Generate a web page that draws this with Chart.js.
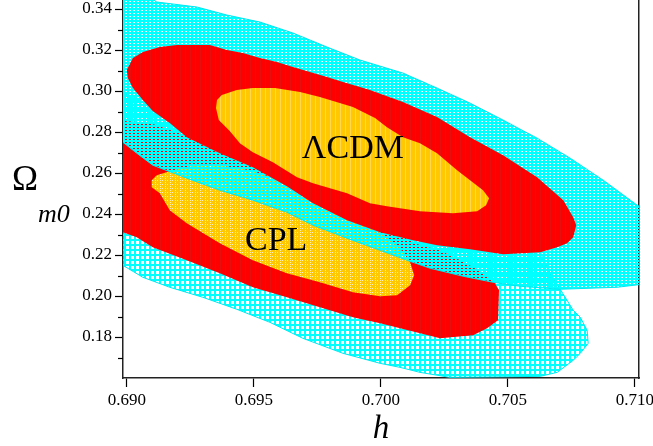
<!DOCTYPE html>
<html>
<head>
<meta charset="utf-8">
<script src="https://cdn.jsdelivr.net/npm/chart.js@4.4.1/dist/chart.umd.min.js"></script>
<style>
  html, body { margin: 0; padding: 0; background: #fff; }
  #chart { display: block; }
</style>
</head>
<body>
<canvas id="chart" width="653" height="446"></canvas>
<script>
// axis ticks
const hTicks = [0.690, 0.695, 0.700, 0.705, 0.710];
const omegaTicks = [0.18, 0.20, 0.22, 0.24, 0.26, 0.28, 0.30, 0.32, 0.34];
const omegaMinorTicks = [0.17, 0.19, 0.21, 0.23, 0.25, 0.27, 0.29, 0.31, 0.33];

// contour outlines, [h, Omega_m0]
const lcdmOuter = [
  [0.68894, 0.35416], [0.69051, 0.34928], [0.69118, 0.34342], [0.69276, 0.34098],
  [0.69394, 0.33707], [0.69524, 0.33365], [0.69654, 0.32828], [0.69788, 0.32145],
  [0.69918, 0.31510], [0.70087, 0.30875], [0.70221, 0.30143], [0.70351, 0.29410],
  [0.70481, 0.28580], [0.70615, 0.27701], [0.70745, 0.26725], [0.70875, 0.25651],
  [0.71009, 0.24430], [0.71060, 0.24089], [0.71060, 0.20621], [0.70930, 0.20426],
  [0.70706, 0.20328], [0.70548, 0.20475], [0.70442, 0.20670], [0.70324, 0.20963],
  [0.70194, 0.21353], [0.70103, 0.21744], [0.69997, 0.22232], [0.69867, 0.22818],
  [0.69733, 0.23454], [0.69630, 0.24089], [0.69496, 0.24675], [0.69366, 0.25163],
  [0.69236, 0.25749], [0.69102, 0.26383], [0.69039, 0.26969], [0.68984, 0.27506],
  [0.68894, 0.28090]
];
const lcdmMid = [
  [0.69000, 0.31021], [0.69024, 0.31607], [0.69063, 0.31900], [0.69130, 0.32145],
  [0.69197, 0.32242], [0.69327, 0.32242], [0.69394, 0.31998], [0.69457, 0.31852],
  [0.69524, 0.31607], [0.69591, 0.31412], [0.69654, 0.31168], [0.69721, 0.30924],
  [0.69788, 0.30680], [0.69851, 0.30436], [0.69918, 0.30191], [0.69957, 0.30045],
  [0.70087, 0.29459], [0.70221, 0.28727], [0.70351, 0.27750], [0.70481, 0.26871],
  [0.70615, 0.25798], [0.70718, 0.24675], [0.70757, 0.23845], [0.70769, 0.23454],
  [0.70757, 0.22867], [0.70733, 0.22574], [0.70694, 0.22379], [0.70627, 0.22135],
  [0.70481, 0.22037], [0.70351, 0.22281], [0.70221, 0.22477], [0.70127, 0.22721],
  [0.69997, 0.23111], [0.69867, 0.23698], [0.69733, 0.24528], [0.69630, 0.25358],
  [0.69496, 0.26286], [0.69366, 0.26969], [0.69236, 0.27750], [0.69169, 0.28434],
  [0.69102, 0.29020], [0.69063, 0.29557], [0.69024, 0.30143], [0.69004, 0.30631]
];
const lcdmInner = [
  [0.69351, 0.29166], [0.69355, 0.29557], [0.69374, 0.29801], [0.69433, 0.30045],
  [0.69496, 0.30143], [0.69583, 0.30143], [0.69682, 0.29947], [0.69760, 0.29703],
  [0.69890, 0.29215], [0.69977, 0.28678], [0.70024, 0.28238], [0.70087, 0.27750],
  [0.70154, 0.27457], [0.70221, 0.26969], [0.70300, 0.26139], [0.70351, 0.25651],
  [0.70402, 0.25163], [0.70426, 0.24772], [0.70414, 0.24430], [0.70379, 0.24138],
  [0.70284, 0.24040], [0.70154, 0.24138], [0.70024, 0.24382], [0.69957, 0.24528],
  [0.69867, 0.25017], [0.69733, 0.25505], [0.69670, 0.25798], [0.69575, 0.26530],
  [0.69496, 0.27018], [0.69445, 0.27457], [0.69406, 0.28043], [0.69362, 0.28580]
];
const cplOuter = [
  [0.68894, 0.30289], [0.68984, 0.29947], [0.69091, 0.29313], [0.69288, 0.28189],
  [0.69682, 0.26139], [0.70075, 0.24186], [0.70391, 0.22818], [0.70548, 0.22477],
  [0.70627, 0.22135], [0.70660, 0.21256], [0.70706, 0.20328], [0.70757, 0.19303],
  [0.70785, 0.18961], [0.70812, 0.18326], [0.70816, 0.17692], [0.70785, 0.17203],
  [0.70757, 0.16861], [0.70694, 0.16275], [0.70627, 0.16080], [0.70272, 0.16031],
  [0.70154, 0.16275], [0.70075, 0.16520], [0.69997, 0.16715], [0.69851, 0.17203],
  [0.69693, 0.17936], [0.69563, 0.18717], [0.69433, 0.19352], [0.69299, 0.19938],
  [0.69169, 0.20426], [0.69063, 0.20914], [0.68984, 0.21500], [0.68894, 0.21842]
];
const cplMid = [
  [0.68894, 0.28678], [0.69000, 0.28531], [0.69091, 0.28434], [0.69288, 0.27604],
  [0.69682, 0.25407], [0.69997, 0.23454], [0.70154, 0.22477], [0.70233, 0.22232],
  [0.70312, 0.21744], [0.70363, 0.21404], [0.70410, 0.21012], [0.70449, 0.20621],
  [0.70465, 0.20279], [0.70461, 0.18815], [0.70418, 0.18424], [0.70363, 0.18082],
  [0.70233, 0.17936], [0.69997, 0.18668], [0.69890, 0.18961], [0.69760, 0.19450],
  [0.69630, 0.19938], [0.69496, 0.20426], [0.69366, 0.21109], [0.69236, 0.21744],
  [0.69102, 0.22379], [0.69039, 0.22867], [0.68984, 0.23111], [0.68894, 0.23307]
];
const cplInner = [
  [0.69098, 0.25651], [0.69118, 0.25895], [0.69169, 0.26090], [0.69248, 0.26335],
  [0.69366, 0.26383], [0.69485, 0.26139], [0.69603, 0.25651], [0.69721, 0.25017],
  [0.69878, 0.24040], [0.69997, 0.23063], [0.70075, 0.22330], [0.70115, 0.21646],
  [0.70131, 0.21012], [0.70115, 0.20523], [0.70064, 0.20035], [0.69997, 0.19986],
  [0.69890, 0.20182], [0.69760, 0.20670], [0.69630, 0.21109], [0.69496, 0.21744],
  [0.69366, 0.22574], [0.69236, 0.23552], [0.69169, 0.24186], [0.69130, 0.25017],
  [0.69098, 0.25309]
];

const regionNames = ['\u039BCDM', 'CPL'];
const regionNameAt = [[0.69689, 0.2673], [0.69465, 0.2223]];

const canvas = document.getElementById('chart');
const ctx = canvas.getContext('2d');

function makePattern(w, h, paint) {
  const c = document.createElement('canvas');
  c.width = w;
  c.height = h;
  paint(c.getContext('2d'));
  return ctx.createPattern(c, 'repeat');
}

// grid-cell look of the original plot
const cyanFine = makePattern(4, 3, g => {
  g.fillStyle = '#00ffff';
  g.fillRect(0, 0, 4, 3);
  g.clearRect(1, 1, 2, 1);
});
const cyanCoarse = makePattern(5, 5, g => {
  g.fillStyle = '#00ffff';
  g.fillRect(0, 0, 5, 5);
  g.clearRect(1, 1, 3, 3);
});
const redFill = makePattern(5, 1, g => {
  g.fillStyle = '#ff0000';
  g.fillRect(0, 0, 5, 1);
  g.fillStyle = '#e41010';
  g.fillRect(0, 0, 1, 1);
});
const yellowLcdm = makePattern(5, 1, g => {
  g.fillStyle = '#ffc800';
  g.fillRect(0, 0, 5, 1);
  g.fillStyle = '#ffd850';
  g.fillRect(0, 0, 1, 1);
});
const yellowCpl = makePattern(5, 4, g => {
  g.fillStyle = '#ffc800';
  g.fillRect(0, 0, 5, 4);
  g.fillStyle = '#fff0b8';
  g.fillRect(0, 0, 1, 1);
  g.fillRect(0, 2, 1, 1);
  g.fillRect(2, 0, 1, 1);
});

function region(label, pts, fill, border, order) {
  const data = pts.map(p => ({ x: p[0], y: p[1] }));
  data.push({ x: pts[0][0], y: pts[0][1] });
  return {
    label,
    data,
    fill: 'shape',
    backgroundColor: fill,
    borderColor: border || 'rgba(0,0,0,0)',
    borderWidth: border ? 1 : 0,
    pointRadius: 0,
    tension: 0,
    order,
    clip: 0
  };
}

// no extra room for overhanging tick labels: the plot fills the frame
function noPad(s) {
  s.paddingTop = 0;
  s.paddingBottom = 0;
  s.paddingLeft = 0;
  s.paddingRight = 0;
}

const textPlugin = {
  id: 'textPlugin',
  afterDatasetsDraw(chart) {
    const c = chart.ctx;
    const { x, y } = chart.scales;
    c.save();
    c.fillStyle = '#000';
    c.font = '34px "Liberation Serif"';
    c.textAlign = 'left';
    c.textBaseline = 'alphabetic';
    regionNames.forEach((name, i) => {
      c.fillText(name, x.getPixelForValue(regionNameAt[i][0]), y.getPixelForValue(regionNameAt[i][1]));
    });
    c.restore();
  },
  afterDraw(chart) {
    const c = chart.ctx;
    const { y } = chart.scales;
    const area = chart.chartArea;
    c.save();
    // minor ticks on the Omega axis
    c.strokeStyle = '#000';
    c.lineWidth = 1.2;
    omegaMinorTicks.forEach(v => {
      const py = Math.round(y.getPixelForValue(v)) + 0.5;
      c.beginPath();
      c.moveTo(area.left - 5, py);
      c.lineTo(area.left, py);
      c.stroke();
    });
    c.fillStyle = '#000';
    c.textBaseline = 'alphabetic';
    c.textAlign = 'center';
    c.font = 'italic 33px "Liberation Serif"';
    c.fillText('h', (area.left + area.right) / 2, 438);
    c.font = '35px "Liberation Serif"';
    c.fillText('\u03A9', 25, 190);
    c.textAlign = 'left';
    c.font = 'italic 26px "Liberation Serif"';
    c.fillText('m0', 38, 222);
    c.restore();
  }
};

const tickFont = { family: '"Liberation Serif"', size: 17 };

new Chart(ctx, {
  type: 'line',
  data: {
    datasets: [
      region('LCDM 1', lcdmInner, yellowLcdm, null, 1),
      region('LCDM 2', lcdmMid, redFill, null, 2),
      region('LCDM 3', lcdmOuter, cyanFine, '#00e8f0', 3),
      region('CPL 1', cplInner, yellowCpl, null, 4),
      region('CPL 2', cplMid, redFill, null, 5),
      region('CPL 3', cplOuter, cyanCoarse, '#00e8f0', 6)
    ]
  },
  options: {
    responsive: false,
    animation: false,
    events: [],
    layout: { padding: 0 },
    plugins: {
      legend: { display: false },
      tooltip: { enabled: false }
    },
    scales: {
      x: {
        type: 'linear',
        min: 0.68985,
        max: 0.71016,
        afterBuildTicks: s => { s.ticks = hTicks.map(v => ({ value: v })); },
        afterFit: s => { s.height = 68; noPad(s); },
        ticks: {
          callback: v => v.toFixed(3),
          font: tickFont,
          color: '#000',
          padding: 3,
          maxRotation: 0,
          autoSkip: false
        },
        grid: { drawOnChartArea: false, tickLength: 9, tickColor: '#000', tickWidth: 1.2 },
        border: { color: '#222', width: 1.5 }
      },
      y: {
        type: 'linear',
        position: 'left',
        min: 0.16,
        max: 0.3444,
        afterBuildTicks: s => { s.ticks = omegaTicks.map(v => ({ value: v })); },
        afterFit: s => { s.width = 123; noPad(s); },
        ticks: {
          callback: v => v.toFixed(2),
          font: tickFont,
          color: '#000',
          padding: 3,
          autoSkip: false
        },
        grid: { drawOnChartArea: false, tickLength: 8, tickColor: '#000', tickWidth: 1.2 },
        border: { color: '#222', width: 1.5 }
      },
      y2: {
        type: 'linear',
        position: 'right',
        min: 0.16,
        max: 0.3444,
        afterFit: s => { s.width = 14; noPad(s); },
        ticks: { display: false },
        grid: { drawOnChartArea: false, drawTicks: false },
        border: { color: '#222', width: 1.5 }
      }
    }
  },
  plugins: [textPlugin]
});
</script>
</body>
</html>
